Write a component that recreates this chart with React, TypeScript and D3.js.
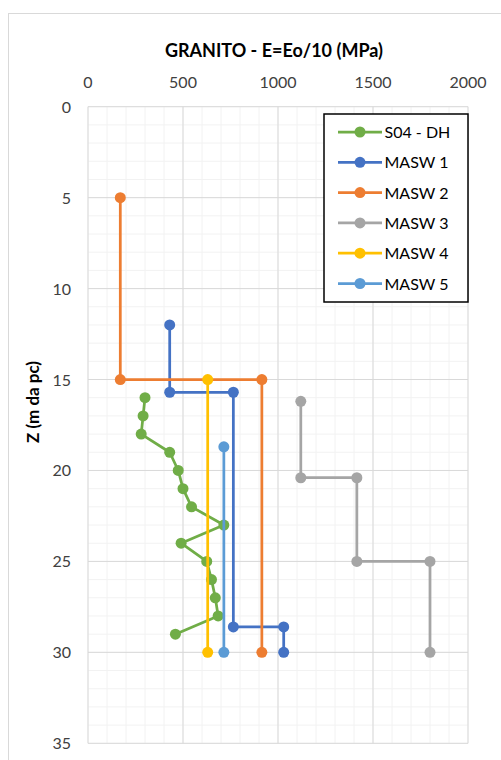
import React from "react";
import * as d3 from "d3";

const seriesNames = ["S04 - DH", "MASW 1", "MASW 2", "MASW 3", "MASW 4", "MASW 5"];
const seriesColors = ["#70AD47", "#4472C4", "#ED7D31", "#A5A5A5", "#FFC000", "#5B9BD5"];

const s04E = [300, 290, 280, 430, 475, 500, 545, 715, 490, 625, 650, 670, 685, 460];
const s04Z = [16, 17, 18, 19, 20, 21, 22, 23, 24, 25, 26, 27, 28, 29];
const masw1E = [430, 430, 765, 765, 1030, 1030];
const masw1Z = [12, 15.7, 15.7, 28.6, 28.6, 30];
const masw2E = [170, 170, 915, 915];
const masw2Z = [5, 15, 15, 30];
const masw3E = [1120, 1120, 1415, 1415, 1800, 1800];
const masw3Z = [16.2, 20.4, 20.4, 25, 25, 30];
const masw4E = [630, 630];
const masw4Z = [15, 30];
const masw5E = [715, 715];
const masw5Z = [18.7, 30];

const xTicks = [0, 500, 1000, 1500, 2000];
const yTicks = [0, 5, 10, 15, 20, 25, 30, 35];

const FONT = "Lato, 'Open Sans', sans-serif";

export default function App() {
  const width = 501;
  const height = 760;
  const left = 88;
  const right = 468;
  const top = 106.7;
  const bottom = 743.3;

  const x = d3.scaleLinear().domain([0, 2000]).range([left, right]);
  const y = d3.scaleLinear().domain([0, 35]).range([top, bottom]);

  const series = [
    { e: s04E, z: s04Z },
    { e: masw1E, z: masw1Z },
    { e: masw2E, z: masw2Z },
    { e: masw3E, z: masw3Z },
    { e: masw4E, z: masw4Z },
    { e: masw5E, z: masw5Z },
  ];

  const line = d3
    .line<[number, number]>()
    .x((d) => x(d[0]))
    .y((d) => y(d[1]));

  const minorX = d3.range(0, 2001, 100);
  const minorY = d3.range(0, 36, 1);

  const legX = 324;
  const legY = 114;
  const legW = 144;
  const legH = 188;
  const legStep = 30.3;

  return (
    <div style={{ position: "absolute", left: 0, top: 0 }}>
      <svg width={width} height={height} style={{ display: "block" }}>
        <rect x={0} y={0} width={width} height={height} fill="#fff" />
        <rect x={8.5} y={13.5} width={560} height={800} fill="#fff" stroke="#D9D9D9" strokeWidth={1} />
        {minorX.map((v) => (
          <line key={"mx" + v} x1={x(v)} x2={x(v)} y1={top} y2={bottom} stroke="#F2F2F2" strokeWidth={1} />
        ))}
        {minorY.map((v) => (
          <line key={"my" + v} x1={left} x2={right} y1={y(v)} y2={y(v)} stroke="#F2F2F2" strokeWidth={1} />
        ))}
        {xTicks.map((v) => (
          <line key={"gx" + v} x1={x(v)} x2={x(v)} y1={top} y2={bottom} stroke="#D9D9D9" strokeWidth={1} />
        ))}
        {yTicks.map((v) => (
          <line key={"gy" + v} x1={left} x2={right} y1={y(v)} y2={y(v)} stroke="#D9D9D9" strokeWidth={1} />
        ))}
        <text x={274} y={57} textAnchor="middle" fontFamily={FONT} fontWeight="bold" fontSize={18} fill="#000">
          GRANITO - E=Eo/10 (MPa)
        </text>
        {xTicks.map((v) => (
          <text key={"xt" + v} x={x(v)} y={87.5} textAnchor="middle" fontFamily={FONT} fontSize={16} fill="#404040">
            {v}
          </text>
        ))}
        {yTicks.map((v) => (
          <text key={"yt" + v} x={71} y={y(v) + 6} textAnchor="end" fontFamily={FONT} fontSize={16} fill="#404040">
            {v}
          </text>
        ))}
        <text
          transform={`translate(39, 402) rotate(-90)`}
          textAnchor="middle"
          fontFamily={FONT}
          fontWeight="bold"
          fontSize={17}
          fill="#000"
        >
          Z (m da pc)
        </text>
        {series.map((s, i) => {
          const pts: [number, number][] = s.e.map((e, k) => [e, s.z[k]]);
          return (
            <g key={"s" + i}>
              <path d={line(pts) || ""} fill="none" stroke={seriesColors[i]} strokeWidth={2.75} strokeLinejoin="round" />
              {pts.map((p, k) => (
                <circle key={k} cx={x(p[0])} cy={y(p[1])} r={5.5} fill={seriesColors[i]} />
              ))}
            </g>
          );
        })}
        <rect x={legX} y={legY} width={legW} height={legH} fill="#fff" stroke="#000" strokeWidth={1.5} />
        {seriesNames.map((n, i) => {
          const cy = legY + 18 + i * legStep;
          return (
            <g key={"l" + i}>
              <line x1={338} x2={382} y1={cy} y2={cy} stroke={seriesColors[i]} strokeWidth={2.75} />
              <circle cx={360} cy={cy} r={5.5} fill={seriesColors[i]} />
              <text x={384.5} y={cy + 6} fontFamily={FONT} fontSize={16} fill="#000">
                {n}
              </text>
            </g>
          );
        })}
      </svg>
    </div>
  );
}
